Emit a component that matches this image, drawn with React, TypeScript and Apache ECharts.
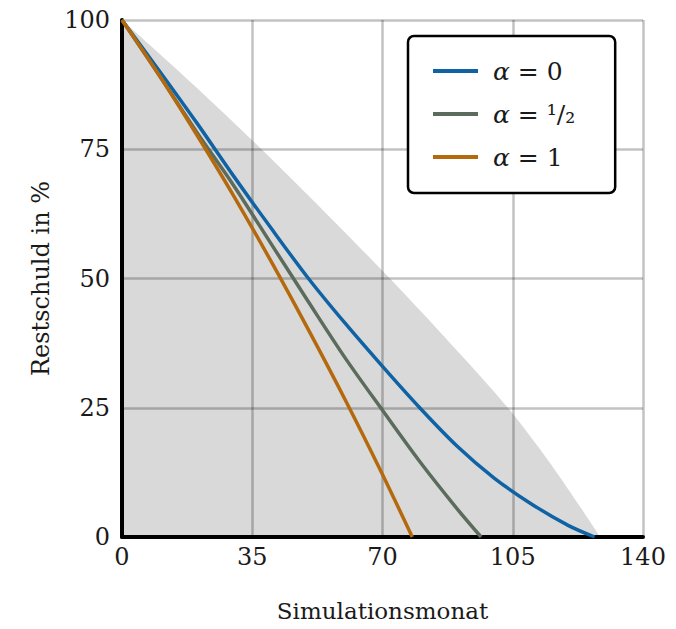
import React, { useEffect, useRef } from "react";
import * as echarts from "echarts";

// Shaded admissible region (upper bound)
const grayMonths = [0, 19.2, 37.5, 55, 72, 88.2, 103.7, 116.8, 128.5];
const grayValues = [100, 87.5, 75, 62.5, 50, 37.5, 25, 12.5, 0];

// α = 0
const blueMonths = [0, 10, 20, 30, 40, 50, 60, 70, 80, 90, 100, 110, 120, 127];
const blueValues = [100, 90.2, 80.2, 69.8, 59.8, 50.1, 41.3, 33.0, 25.0, 17.6, 11.4, 6.4, 2.2, 0];

// α = 1/2
const greenMonths = [0, 10, 20, 30, 40, 50, 60, 70, 80, 90, 96.5];
const greenValues = [100, 89.3, 78.4, 68.0, 56.8, 45.6, 34.6, 24.5, 14.6, 5.5, 0];

// α = 1
const orangeMonths = [0, 10, 20, 30, 40, 50, 60, 70, 78];
const orangeValues = [100, 89.3, 77.9, 66.0, 53.4, 40.2, 26.5, 12.1, 0];

const seriesNames = ["α = 0", "α = 1/2", "α = 1"];
const seriesColors = ["#0f63a5", "#5b6b5c", "#b5690d"];
const legendLabels = ["{i|α} = 0", "{i|α} = ¹/₂", "{i|α} = 1"];

const xTicks = [0, 35, 70, 105, 140];
const yTicks = [0, 25, 50, 75, 100];

const pairs = (xs: number[], ys: number[]) => xs.map((x, i) => [x, ys[i]]);

const FONT = "DejaVu Serif";

export default function App() {
  const ref = useRef<HTMLDivElement>(null);
  useEffect(() => {
    if (!ref.current) return;
    const chart = echarts.init(ref.current, null, { renderer: "svg" });
    const curves = [
      pairs(blueMonths, blueValues),
      pairs(greenMonths, greenValues),
      pairs(orangeMonths, orangeValues),
    ];
    chart.setOption({
      animation: false,
      backgroundColor: "#ffffff",
      textStyle: { fontFamily: FONT },
      grid: { left: 122, right: 33, top: 20, bottom: 92 },
      xAxis: {
        type: "value",
        min: xTicks[0],
        max: xTicks[xTicks.length - 1],
        interval: 35,
        z: 3,
        name: "Simulationsmonat",
        nameLocation: "middle",
        nameGap: 62,
        nameTextStyle: { fontFamily: FONT, fontSize: 23, color: "#1a1a1a" },
        axisLine: { show: true, lineStyle: { color: "#000", width: 4 } },
        axisTick: { show: false },
        axisLabel: { fontFamily: FONT, fontSize: 24, color: "#1a1a1a", margin: 8 },
        splitLine: { show: true, showMinLine: false, lineStyle: { color: "rgba(0,0,0,0.24)", width: 2.5 } },
      },
      yAxis: {
        type: "value",
        min: yTicks[0],
        max: yTicks[yTicks.length - 1],
        interval: 25,
        z: 3,
        name: "Restschuld in %",
        nameLocation: "middle",
        nameGap: 68,
        nameTextStyle: { fontFamily: FONT, fontSize: 24, color: "#1a1a1a" },
        axisLine: { show: true, lineStyle: { color: "#000", width: 4 } },
        axisTick: { show: false },
        axisLabel: { fontFamily: FONT, fontSize: 24, color: "#1a1a1a", margin: 12 },
        splitLine: { show: true, showMinLine: false, lineStyle: { color: "rgba(0,0,0,0.24)", width: 2.5 } },
      },
      legend: {
        data: seriesNames,
        left: 408,
        top: 36,
        orient: "vertical",
        z: 10,
        backgroundColor: "#ffffff",
        borderColor: "#000",
        borderWidth: 2.5,
        borderRadius: 6,
        padding: [18, 40, 19, 25],
        itemGap: 9,
        itemWidth: 45,
        itemHeight: 4,
        icon: "rect",
        formatter: (name: string) => legendLabels[seriesNames.indexOf(name)],
        textStyle: {
          fontFamily: FONT,
          fontSize: 25,
          color: "#1a1a1a",
          lineHeight: 34,
          padding: [0, 0, 0, 10],
          rich: { i: { fontFamily: FONT, fontSize: 25, fontStyle: "italic", color: "#1a1a1a" } },
        },
      },
      series: [
        {
          name: "Bereich",
          type: "line",
          data: pairs(grayMonths, grayValues),
          showSymbol: false,
          smooth: 0.3,
          z: 1,
          silent: true,
          lineStyle: { width: 0, color: "#d9d9d9" },
          itemStyle: { color: "#d9d9d9" },
          areaStyle: { color: "#d9d9d9", opacity: 1 },
        },
        ...curves.map((d, i) => ({
          name: seriesNames[i],
          type: "line",
          data: d,
          showSymbol: false,
          smooth: 0.3,
          z: 5,
          lineStyle: { width: 3.5, color: seriesColors[i] },
          itemStyle: { color: seriesColors[i] },
        })),
      ],
    });
    return () => chart.dispose();
  }, []);
  return (
    <div
      ref={ref}
      style={{ position: "fixed", left: 0, top: 0, width: 676, height: 629 }}
    />
  );
}
